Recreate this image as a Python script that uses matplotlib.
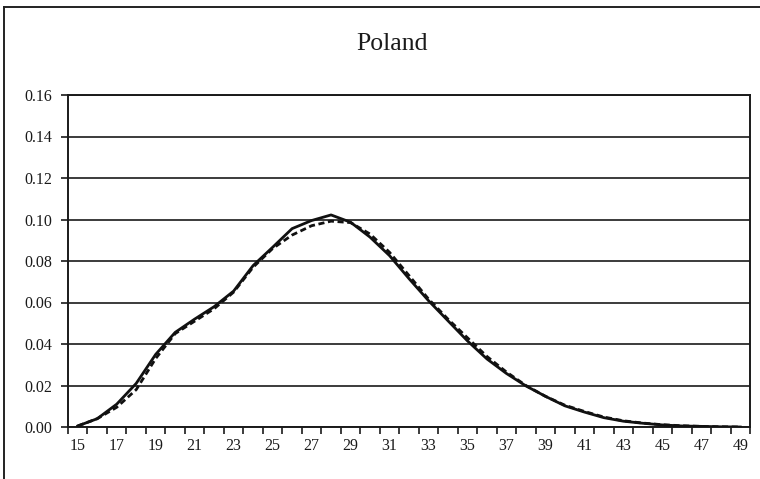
import numpy as np
import matplotlib
matplotlib.use("Agg")
import matplotlib.pyplot as plt
from matplotlib.lines import Line2D

# ages 15..49, two schedules (solid = observed, dashed = fitted)
ages = list(range(15, 50))
observed = [0.0005, 0.004, 0.011, 0.021, 0.035, 0.0456, 0.052, 0.058, 0.0655, 0.0778,
            0.0866, 0.0956, 0.0995, 0.1022, 0.0987, 0.0915, 0.0826, 0.0715, 0.0609, 0.0512,
            0.0415, 0.0328, 0.0258, 0.0198, 0.0148, 0.0102, 0.0072, 0.0045, 0.0028, 0.0018,
            0.0010, 0.0005, 0.0003, 0.0001, 0.0]
fitted = [0.0005, 0.004, 0.0095, 0.018, 0.033, 0.045, 0.051, 0.057, 0.065, 0.077,
          0.086, 0.0925, 0.097, 0.0992, 0.0985, 0.093, 0.0842, 0.073, 0.0617, 0.052,
          0.043, 0.034, 0.0265, 0.0200, 0.0148, 0.0105, 0.0075, 0.0048, 0.003, 0.0019,
          0.0011, 0.0006, 0.0003, 0.0001, 0.0]
yticks = [0.00, 0.02, 0.04, 0.06, 0.08, 0.10, 0.12, 0.14, 0.16]
title = "Poland"

plt.rcParams['font.family'] = ['Liberation Serif', 'DejaVu Serif']

W, H = 760, 479
fig = plt.figure(figsize=(W / 100, H / 100), dpi=100)
ax = fig.add_axes([68 / W, 1 - 427 / H, (750 - 68) / W, (427 - 95) / H])

# outer chart frame (left and top edges visible)
fig.add_artist(Line2D([4 / W, 4 / W], [1 - 7 / H, 0], transform=fig.transFigure,
                      color='#222222', lw=1.4))
fig.add_artist(Line2D([4 / W, 1], [1 - 7 / H, 1 - 7 / H], transform=fig.transFigure,
                      color='#222222', lw=1.4))

ax.plot(ages, observed, color='#111111', lw=2.0, solid_joinstyle='round', zorder=3)
ax.plot(ages, fitted, color='#111111', lw=2.0, linestyle=(0, (2.2, 1.3)), zorder=3)

ax.set_xlim(14.5, 49.5)
ax.set_ylim(0, 0.16)

for y in yticks:
    ax.axhline(y, color='#1a1a1a', lw=1.2, zorder=1)

for side in ['left', 'right', 'top', 'bottom']:
    ax.spines[side].set_color('#1a1a1a')
    ax.spines[side].set_linewidth(1.4)

ax.set_yticks(yticks)
ax.set_yticklabels([f"{v:.2f}" for v in yticks])
ax.tick_params(axis='y', direction='out', length=5, width=1.2, pad=6.5,
               labelsize=11.5, colors='#1a1a1a')

ax.set_xticks(np.arange(14.5, 50.5, 1.0))
ax.set_xticklabels([])
ax.set_xticks(ages[::2], minor=True)
ax.set_xticklabels([str(a) for a in ages[::2]], minor=True)
ax.tick_params(axis='x', which='major', direction='out', length=5, width=1.2, colors='#1a1a1a')
ax.tick_params(axis='x', which='minor', length=0, pad=8, labelsize=11.5, colors='#1a1a1a')

fig.text(392 / W, 1 - 44 / H, title, ha='center', va='center', fontsize=18.5, color='#1a1a1a')

fig.savefig("out.png", dpi=100)
